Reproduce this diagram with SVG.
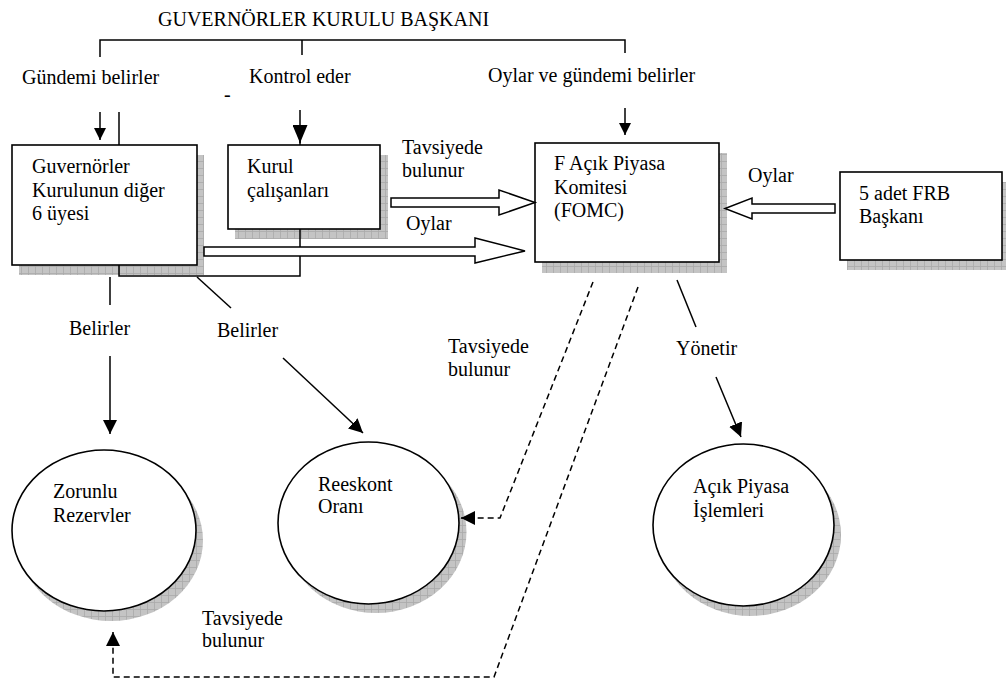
<svg xmlns="http://www.w3.org/2000/svg" width="1006" height="684" viewBox="0 0 1006 684">
<style>
text{font-family:"Liberation Serif","Times New Roman",serif;font-size:20px;fill:#000}
.box{fill:#fff;stroke:#000;stroke-width:1.6}
.sh{fill:url(#grid)}
.ln{stroke:#000;stroke-width:1.5;fill:none}
.dash{stroke:#000;stroke-width:1.5;fill:none;stroke-dasharray:6 4}
.hollow{fill:#fff;stroke:#000;stroke-width:1.5}
</style>
<defs>
<pattern id="grid" width="7" height="7" patternUnits="userSpaceOnUse">
<rect width="7" height="7" fill="#c4c4c4"/>
<path d="M0 0.5H7M0.5 0V7" stroke="#a9a9a9" stroke-width="0.8"/>
</pattern>
<marker id="ah" viewBox="0 0 14 14" markerWidth="14" markerHeight="14" refX="14" refY="7" orient="auto" markerUnits="userSpaceOnUse"><path d="M0,0L14,7L0,14z" fill="#000"/></marker>
<marker id="ahs" viewBox="0 0 12 12" markerWidth="12" markerHeight="12" refX="12" refY="6" orient="auto" markerUnits="userSpaceOnUse"><path d="M0,0L12,6L0,12z" fill="#000"/></marker>
<marker id="ahb" viewBox="0 0 18 15" markerWidth="18" markerHeight="15" refX="18" refY="7.5" orient="auto" markerUnits="userSpaceOnUse"><path d="M0,0L18,7.5L0,15z" fill="#000"/></marker>
</defs>

<g id="n-chair">
<text x="158" y="26">GUVERNÖRLER KURULU BAŞKANI</text>
</g>

<g id="n-board">
<rect class="sh" x="19" y="155" width="185" height="120"/>
<rect class="box" x="12" y="145" width="185" height="120"/>
<text x="32" y="173">Guvernörler</text>
<text x="32" y="197">Kurulunun diğer</text>
<text x="32" y="220">6 üyesi</text>
</g>

<g id="n-staff">
<rect class="sh" x="235" y="155" width="153" height="84"/>
<rect class="box" x="228" y="145" width="152" height="84"/>
<text x="247" y="173">Kurul</text>
<text x="247" y="197">çalışanları</text>
</g>

<g id="n-fomc">
<rect class="sh" x="542" y="153" width="185" height="120"/>
<rect class="box" x="535" y="143" width="184" height="119"/>
<text x="554" y="170">F Açık Piyasa</text>
<text x="554" y="194">Komitesi</text>
<text x="554" y="217">(FOMC)</text>
</g>

<g id="n-frb">
<rect class="sh" x="847" y="182" width="162" height="88"/>
<rect class="box" x="840" y="172" width="162" height="88"/>
<text x="859" y="200">5 adet FRB</text>
<text x="859" y="223">Başkanı</text>
</g>

<g id="n-reserves">
<ellipse class="sh" cx="111" cy="540.5" rx="92" ry="80.5"/>
<ellipse class="box" cx="104" cy="530.5" rx="92" ry="80.5"/>
<text x="53" y="498">Zorunlu</text>
<text x="53" y="522">Rezervler</text>
</g>

<g id="n-discount">
<ellipse class="sh" cx="376" cy="532" rx="90.5" ry="81"/>
<ellipse class="box" cx="368.5" cy="523" rx="90.5" ry="81"/>
<text x="318" y="491">Reeskont</text>
<text x="318" y="513">Oranı</text>
</g>

<g id="n-omo">
<ellipse class="sh" cx="750.5" cy="535" rx="90.5" ry="81"/>
<ellipse class="box" cx="743.5" cy="525" rx="90.5" ry="81"/>
<text x="693" y="493">Açık Piyasa</text>
<text x="693" y="517">İşlemleri</text>
</g>

<g id="connectors">
<path class="ln" d="M100,57V40H625V53M302,40V55"/>
<text x="22" y="84">Gündemi belirler</text>
<text x="249" y="83">Kontrol eder</text>
<text x="224" y="101">-</text>
<text x="488" y="82">Oylar ve gündemi belirler</text>
<line class="ln" x1="100" y1="112" x2="100" y2="140" marker-end="url(#ahs)"/>
<line class="ln" x1="119" y1="112" x2="119" y2="145"/>
<line class="ln" x1="300" y1="110" x2="300" y2="143" stroke-width="2.8" marker-end="url(#ahb)"/>
<line class="ln" x1="300" y1="140" x2="300" y2="145"/>
<line class="ln" x1="625" y1="108" x2="625" y2="135" marker-end="url(#ahs)"/>

<path class="ln" d="M300,229V276H119V265"/>
<line class="ln" x1="110" y1="277" x2="110" y2="305"/>
<line class="ln" x1="197" y1="277" x2="231" y2="308"/>
<text x="69" y="335">Belirler</text>
<text x="217" y="337">Belirler</text>
<line class="ln" x1="110" y1="356" x2="110" y2="434" marker-end="url(#ah)"/>
<line class="ln" x1="283" y1="358" x2="363" y2="433" marker-end="url(#ah)"/>

<polygon class="hollow" points="391,198 499,198 499,190 535,202.5 499,215 499,207 391,207"/>
<text x="402" y="154">Tavsiyede</text>
<text x="402" y="177">bulunur</text>
<polygon class="hollow" points="204,247 475,247 475,238 525,251 475,263 475,256 204,256"/>
<text x="406" y="230">Oylar</text>
<polygon class="hollow" points="835,204 752,204 752,198 725,208.5 752,219 752,213 835,213"/>
<text x="748" y="182">Oylar</text>

<line class="ln" x1="677" y1="280" x2="696" y2="327"/>
<text x="676" y="355">Yönetir</text>
<line class="ln" x1="716" y1="377" x2="741" y2="437" marker-end="url(#ah)"/>

<path class="dash" d="M593,282L500,518H461" marker-end="url(#ah)"/>
<text x="448" y="353">Tavsiyede</text>
<text x="448" y="376">bulunur</text>
<path class="dash" d="M638,287L494,677H113V632" marker-end="url(#ah)"/>
<text x="202" y="625">Tavsiyede</text>
<text x="202" y="647">bulunur</text>
</g>
</svg>
